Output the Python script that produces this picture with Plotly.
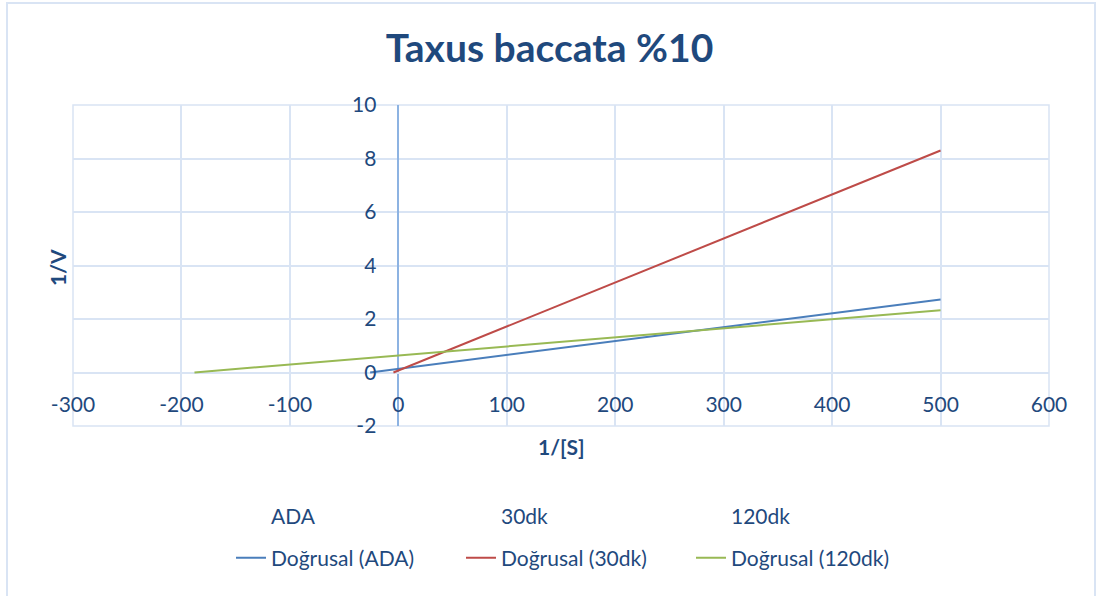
import plotly.graph_objects as go

# Data (trendline endpoints)
series_names = ["ADA", "30dk", "120dk"]
trend_names = ["Doğrusal (ADA)", "Doğrusal (30dk)", "Doğrusal (120dk)"]
x_ada = [-26, 500]
y_ada = [0, 2.73]
x_30 = [-4.5, 500]
y_30 = [0, 8.3]
x_120 = [-188, 500]
y_120 = [0, 2.33]
trend_x = [x_ada, x_30, x_120]
trend_y = [y_ada, y_30, y_120]
colors = ["#4a7ebb", "#be4b48", "#98b954"]

x_ticks = [-300, -200, -100, 0, 100, 200, 300, 400, 500, 600]
x_labels = ["-300", "-200", "-100", "0", "100", "200", "300", "400", "500", "600"]
y_ticks = [-2, 0, 2, 4, 6, 8, 10]
y_labels = ["-2", "0", "2", "4", "6", "8", "10"]

FONT = "Lato"
TXT = "#1f497d"
GRID = "#d9e4f4"

fig = go.Figure()

for name in series_names:
    fig.add_trace(go.Scatter(x=[None], y=[None], mode="lines", name=name,
                             line=dict(width=0, color="rgba(0,0,0,0)"),
                             legend="legend"))

for name, xs, ys, c in zip(trend_names, trend_x, trend_y, colors):
    fig.add_trace(go.Scatter(x=xs, y=ys, mode="lines", name=name,
                             line=dict(color=c, width=2), legend="legend2",
                             showlegend=True))

fig.update_layout(
    width=1099, height=596,
    margin=dict(l=73, r=50, t=105, b=170),
    paper_bgcolor="white", plot_bgcolor="white",
    font=dict(family=FONT, color=TXT, size=21),
    title=dict(text="<b>Taxus baccata %10</b>", x=0.5, xanchor="center",
               y=1 - 48 / 596, yanchor="middle",
               font=dict(size=39, color=TXT, family=FONT)),
    xaxis=dict(range=[-300, 600], tickvals=x_ticks, ticktext=x_labels,
               showgrid=True, gridcolor=GRID, gridwidth=1.5, zeroline=True,
               zerolinecolor="#8db3e2", zerolinewidth=2, showline=False,
               anchor="free", position=2 / 12, ticks="",
               ticklabelstandoff=17, tickfont=dict(size=21, color=TXT)),
    yaxis=dict(range=[-2, 10], tickvals=y_ticks, ticktext=y_labels,
               showgrid=True, gridcolor=GRID, gridwidth=1.5, zeroline=True,
               zerolinecolor=GRID, zerolinewidth=1.5, showline=False,
               anchor="free", position=3 / 9, ticks="",
               ticklabelstandoff=22, tickfont=dict(size=21, color=TXT)),
    legend=dict(orientation="h", xref="container", yref="container",
                x=231 / 1099, xanchor="left", y=1 - 516 / 596, yanchor="middle",
                entrywidthmode="pixels", entrywidth=185,
                font=dict(size=21, color=TXT), bgcolor="rgba(0,0,0,0)"),
    legend2=dict(orientation="h", xref="container", yref="container",
                 x=231 / 1099, xanchor="left", y=1 - 558 / 596, yanchor="middle",
                 entrywidthmode="pixels", entrywidth=185,
                 font=dict(size=21, color=TXT), bgcolor="rgba(0,0,0,0)"),
    showlegend=True,
)

fig.add_annotation(text="<b>1/[S]</b>", xref="paper", yref="paper",
                   x=0.5, y=-(447 - 426) / 321, xanchor="center",
                   yanchor="middle", showarrow=False,
                   font=dict(size=21, color=TXT))
fig.add_annotation(text="<b>1/V</b>", xref="paper", yref="paper",
                   x=(57 - 73) / 976, y=(426 - 268) / 321, xanchor="center",
                   yanchor="middle", showarrow=False,
                   textangle=-90, font=dict(size=21, color=TXT))

# plot-area frame (edge gridlines)
fig.add_shape(type="rect", xref="paper", yref="paper", x0=0, x1=1, y0=0, y1=1,
              line=dict(color=GRID, width=1.5), layer="below")
# outer chart border
fig.add_shape(type="rect", xref="paper", yref="paper",
              x0=(7 - 73) / 976, x1=(1095 - 73) / 976,
              y0=(426 - 600) / 321, y1=(426 - 3) / 321,
              line=dict(color="#d9e4f4", width=2), layer="below")

fig.write_html("out.html", config={"displayModeBar": False},
               post_script="document.body.style.margin='0px';")
